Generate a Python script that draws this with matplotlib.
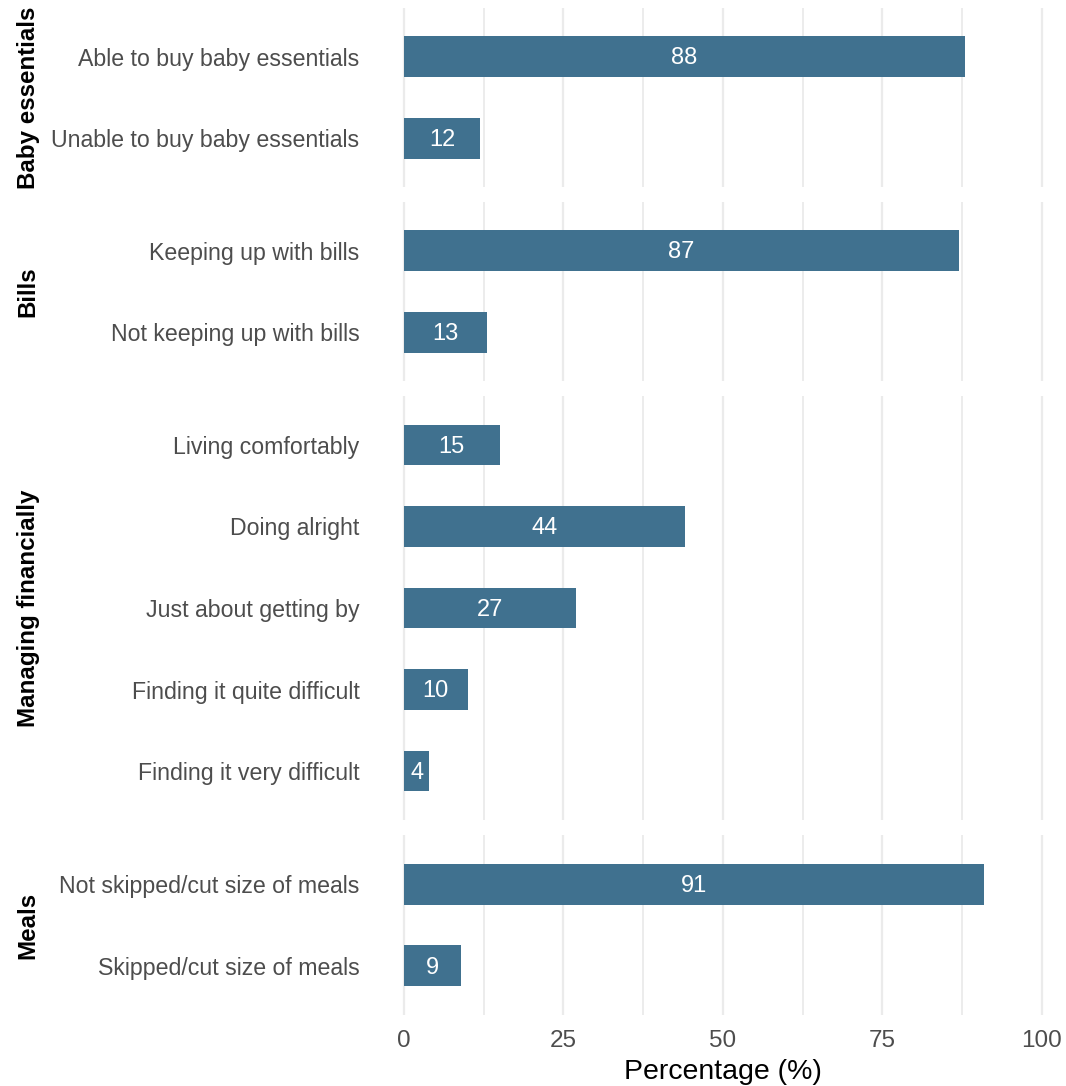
import matplotlib
matplotlib.use("Agg")
import matplotlib.pyplot as plt

plt.rcParams["font.family"] = ["Liberation Sans", "DejaVu Sans"]

# data
baby_labels = ["Able to buy baby essentials", "Unable to buy baby essentials"]
baby_values = [88, 12]
bills_labels = ["Keeping up with bills", "Not keeping up with bills"]
bills_values = [87, 13]
finance_labels = [
    "Living comfortably",
    "Doing alright",
    "Just about getting by",
    "Finding it quite difficult",
    "Finding it very difficult",
]
finance_values = [15, 44, 27, 10, 4]
meals_labels = ["Not skipped/cut size of meals", "Skipped/cut size of meals"]
meals_values = [91, 9]

facets = [
    ("Baby essentials", baby_labels, baby_values),
    ("Bills", bills_labels, bills_values),
    ("Managing financially", finance_labels, finance_values),
    ("Meals", meals_labels, meals_values),
]

BAR_COLOR = "#40718F"
GRID_COLOR = "#EBEBEB"
TEXT_GREY = "#4D4D4D"

W, H = 1066, 1086
fig = plt.figure(figsize=(W / 100, H / 100), dpi=100)

# panel extents in pixels (top, bottom)
panel_px = [(8, 187), (202, 381), (396, 820), (835, 1015)]
left_px, right_px = 372, 1066
x_min, x_max = -5, -5 + (right_px - left_px) / 6.38

for i, ((name, labels, values), (top, bottom)) in enumerate(zip(facets, panel_px)):
    ax = fig.add_axes([
        left_px / W,
        1 - bottom / H,
        (right_px - left_px) / W,
        (bottom - top) / H,
    ])
    n = len(labels)
    y = list(range(n))
    ax.barh(y, values, height=0.5, color=BAR_COLOR, zorder=3)
    for yi, v in zip(y, values):
        ax.text(v / 2, yi + 0.02, str(v), color="white", fontsize=17,
                ha="center", va="center", zorder=4)

    ax.set_ylim(n - 1 + 0.6, -0.6)
    ax.set_xlim(x_min, x_max)
    ax.set_yticks(y)
    ax.set_yticklabels(labels, fontsize=16.7, color=TEXT_GREY)

    major = [0, 25, 50, 75, 100]
    minor = [12.5, 37.5, 62.5, 87.5]
    for xv in major:
        ax.axvline(xv, color=GRID_COLOR, lw=1.6, zorder=0)
    for xv in minor:
        ax.axvline(xv, color=GRID_COLOR, lw=1.3, zorder=0)

    ax.set_xticks(major)
    if i == len(facets) - 1:
        ax.set_xticklabels([str(m) for m in major], fontsize=17.5, color=TEXT_GREY)
        ax.set_xlabel("Percentage (%)", fontsize=20.5, color="black", va="baseline")
        ax.tick_params(axis="x", pad=11)
        # centre of the full (expanded) panel range, baseline near the bottom edge
        ax.xaxis.set_label_coords((723 - left_px) / (right_px - left_px),
                                  -(1079 - bottom) / (bottom - top))
    else:
        ax.set_xticklabels([])
    ax.tick_params(axis="both", length=0)
    ax.tick_params(axis="y", pad=9)
    for s in ax.spines.values():
        s.set_visible(False)

    fig.text(28 / W, 1 - (top + bottom) / 2 / H, name, rotation=90,
             fontsize=17.4, fontweight="bold", ha="center", va="center")

fig.savefig("out.png", dpi=100)
